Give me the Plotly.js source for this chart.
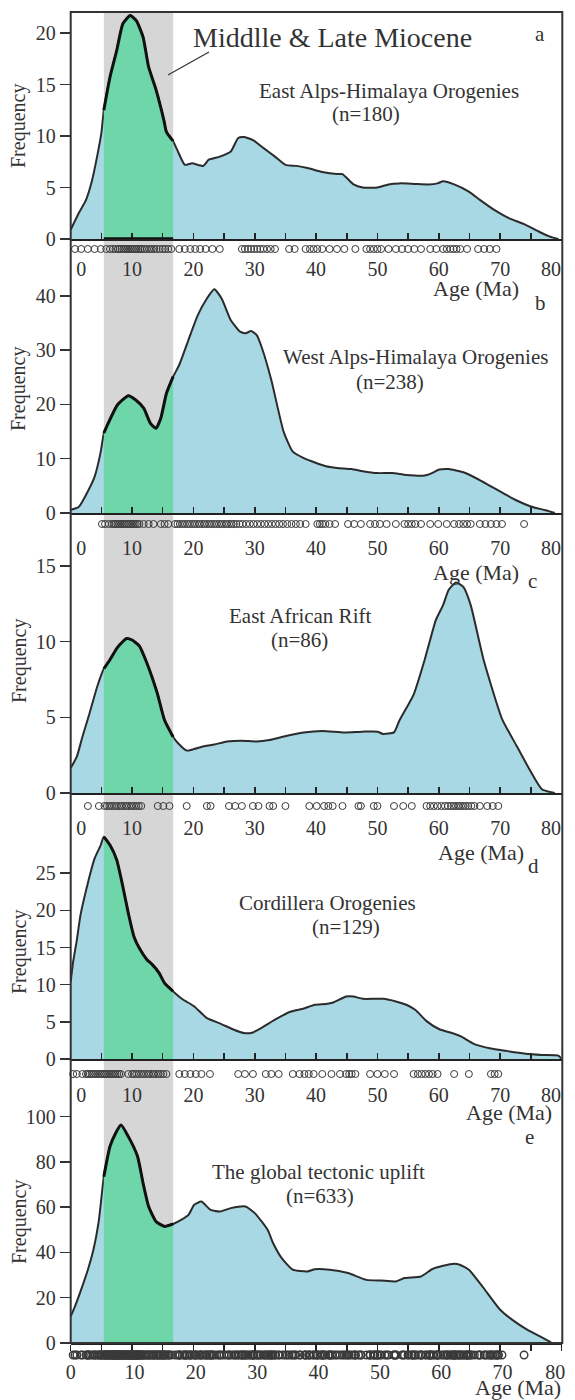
<!DOCTYPE html>
<html><head><meta charset="utf-8">
<script src="https://cdn.plot.ly/plotly-3.0.1.min.js"></script>
<style>html,body{margin:0;padding:0;background:#fff}</style>
</head><body><div id="chart" style="width:575px;height:1400px"></div>
<script>
// ---------- DATA ----------
const BAND = [5.4, 16.7]; // Middle & Late Miocene (Ma)

const titlesLine1 = ["East Alps-Himalaya Orogenies","West Alps-Himalaya Orogenies","East African Rift","Cordillera Orogenies","The global tectonic uplift"];
const titlesLine2 = ["(n=180)","(n=238)","(n=86)","(n=129)","(n=633)"];
const panelLetters = ["a","b","c","d","e"];
const xTickText = ["0","10","20","30","40","50","60","70","80"];
const yTicksA = [0,5,10,15,20];
const yTicksB = [0,10,20,30,40];
const yTicksC = [0,5,10,15];
const yTicksD = [0,5,10,15,20,25];
const yTicksE = [0,20,40,60,80,100];

// a: East Alps-Himalaya
const ageA = [0,1.3,2.5,3.4,4.3,5.0,5.4,6.4,7.5,8.5,9.7,10.7,11.8,12.7,13.9,15.2,15.6,16.7,17.4,18.6,19.8,21.6,22.5,24.3,26.1,27.3,28.2,29.7,31.5,33.3,35.0,36.8,38.6,41.0,43.4,44.3,46.1,47.6,50.0,51.8,53.6,56.0,58.3,59.8,60.7,62.5,64.9,66.7,69.1,71.5,73.9,76.2,78.0,79.5];
const freqA = [0.9,2.5,3.8,5.5,8.0,10.3,12.5,15.7,18.3,20.9,21.7,21.2,19.6,16.7,14.5,11.5,10.4,9.5,8.6,7.2,7.35,7.1,7.7,8.0,8.5,9.8,9.9,9.6,8.8,8.0,7.2,7.1,6.9,6.5,6.3,6.3,5.3,5.0,5.0,5.3,5.4,5.35,5.3,5.4,5.6,5.3,4.6,3.8,2.8,2.0,1.45,0.75,0.25,0];
const rugA = [0.7,1.7,2.8,3.9,4.9,5.8,6.4,6.9,7.3,7.7,8.0,8.3,8.6,8.9,9.2,9.5,9.8,10.1,10.4,10.7,11.0,11.3,11.6,12.0,12.4,12.8,13.2,13.6,14.0,14.5,15.0,15.4,15.9,16.4,17.7,18.6,19.5,20.3,21.1,22.0,23.1,24.3,27.9,28.4,28.9,29.4,29.9,30.4,30.9,31.4,32.0,32.6,33.3,35.6,36.5,38.3,39.0,39.6,40.2,41.0,42.2,43.4,44.6,46.4,48.2,48.8,49.4,50.0,50.6,51.8,53.0,54.0,55.0,56.0,57.1,58.6,59.6,60.7,61.3,61.9,62.4,62.9,63.5,64.6,66.4,67.4,68.3,69.4];

// b: West Alps-Himalaya
const ageB = [0,1.3,2.8,3.9,4.9,5.4,6.1,7.6,9.4,10.6,11.9,13.0,13.9,14.7,15.6,16.7,17.7,19.2,20.7,22.2,23.4,24.6,26.1,27.6,28.5,29.4,30.3,31.2,32.7,34.7,36.2,38.0,39.8,41.6,43.4,45.8,47.6,50.0,52.4,54.7,57.7,58.6,60.1,61.6,64.0,66.1,68.5,70.9,72.7,75.0,77.4,78.9];
const freqB = [0.6,1.1,4.0,6.7,11.3,14.7,16.5,19.9,21.6,20.8,19.3,16.5,15.6,17.5,22.0,25.1,27.3,31.9,36.4,39.5,41.2,39.5,35.5,33.4,33.1,33.5,32.8,30.3,24.5,15.0,11.3,10.1,9.3,8.6,8.3,8.1,7.7,7.35,7.35,7.0,6.9,7.2,8.0,8.1,7.5,6.4,4.9,3.4,2.3,1.2,0.5,0];
const rugB = [5.1,5.6,6.2,6.7,7.0,7.3,7.6,7.9,8.2,8.5,8.8,9.1,9.4,9.7,10.0,10.3,10.6,10.9,11.2,11.9,12.7,13.5,14.7,15.3,15.9,17.0,17.4,17.8,18.2,18.6,19.0,19.4,19.8,20.2,20.6,21.0,21.4,21.8,22.2,22.6,23.0,23.4,23.8,24.2,24.6,25.0,25.4,25.8,26.2,26.6,27.0,27.5,28.0,28.6,29.2,29.8,30.4,31.0,31.6,32.2,32.8,33.4,34.0,34.6,35.3,36.0,36.7,37.4,38.3,40.2,40.6,41.0,41.5,42.2,43.1,45.2,46.2,47.3,48.8,49.6,50.4,51.5,53.0,54.4,55.0,55.6,56.2,57.1,58.6,59.9,61.3,62.5,63.3,64.0,64.6,65.2,66.7,67.6,68.5,69.4,70.3,73.9];

// c: East African Rift
const ageC = [0,1.0,1.9,3.1,4.3,5.4,6.4,7.6,9.1,10.0,11.2,12.4,14.1,15.3,16.7,17.7,18.9,20.1,21.9,23.4,25.5,27.9,30.3,32.4,34.4,38.0,41.0,44.6,47.6,50.0,50.9,52.7,53.6,55.9,57.7,59.5,60.7,61.6,62.8,64.0,65.2,67.3,70.3,72.7,75.0,76.8,78.9];
const freqC = [1.65,2.4,3.7,5.3,7.0,8.2,8.8,9.6,10.2,10.1,9.7,8.6,6.6,4.8,3.7,3.2,2.8,2.9,3.1,3.2,3.4,3.45,3.4,3.5,3.7,4.0,4.1,4.0,4.05,4.05,3.9,4.0,4.8,6.5,8.8,11.4,12.4,13.4,13.9,13.6,12.4,8.8,4.9,3.1,1.4,0.25,0];
const rugC = [2.8,4.6,5.5,5.9,6.3,6.7,7.1,7.5,7.9,8.3,8.7,9.1,9.5,9.9,10.3,10.7,11.1,11.5,14.2,15.1,16.1,18.9,22.2,22.8,25.8,26.8,27.9,29.7,30.6,32.4,33.0,35.0,38.9,40.1,41.3,42.0,42.7,44.3,46.9,47.3,49.4,50.0,52.7,54.2,55.6,58.0,58.6,59.2,59.8,60.4,61.0,61.5,62.0,62.4,62.8,63.2,63.6,64.0,64.4,64.8,65.3,65.8,66.7,67.9,68.8,69.7];

// d: Cordillera
const ageD = [0,0.4,1.0,1.6,2.8,3.9,4.9,5.4,6.4,7.5,8.5,9.4,10.3,11.2,12.4,13.3,14.4,15.3,16.7,18.3,20.1,22.2,24.3,26.7,28.2,29.4,30.9,33.3,35.6,38.0,39.8,41.6,42.8,44.9,46.1,47.6,50.9,53.0,54.7,56.2,58.0,60.1,62.5,63.7,65.8,68.5,70.9,73.9,76.8,79.5,80];
const freqD = [10.4,13.1,16.0,19.4,23.7,27.0,28.8,29.9,28.8,26.8,23.2,19.6,16.5,14.9,13.4,12.7,11.6,10.2,9.1,8.0,7.1,5.5,4.8,3.9,3.5,3.5,4.1,5.3,6.3,6.8,7.3,7.4,7.6,8.4,8.4,8.1,8.1,7.75,7.3,6.6,5.1,4.0,3.4,3.0,2.0,1.4,1.1,0.75,0.55,0.45,0];
const rugD = [0.4,1.0,1.9,2.5,2.8,3.1,3.4,3.7,4.0,4.3,4.6,4.9,5.2,5.5,5.8,6.1,6.4,6.7,7.0,7.3,7.6,7.9,8.2,9.4,10.0,10.3,10.7,11.1,11.5,11.9,12.3,12.7,13.1,13.5,13.9,14.3,14.7,15.1,15.6,17.7,18.6,19.5,20.4,21.3,22.7,27.3,28.4,29.7,31.8,32.7,33.9,36.2,37.3,38.1,38.8,39.6,41.0,42.5,43.9,44.9,45.4,45.8,46.4,48.8,50.0,51.2,52.7,55.9,56.6,57.2,57.8,58.4,59.0,59.8,62.5,64.9,68.5,69.1,69.7];

// e: global (sum of the four regions, n = 180+238+86+129 = 633)
const ageE = [0,0.7,1.6,2.8,3.7,4.6,5.4,6.4,7.3,8.2,9.4,10.9,11.8,12.7,13.9,15.3,16.7,18.0,19.2,20.1,21.3,22.8,24.3,26.1,28.5,30.0,32.1,33.0,34.4,36.2,38.6,39.8,42.2,45.2,48.2,50.6,53.0,54.4,57.1,58.9,60.7,62.5,63.4,64.9,67.3,70.0,72.1,74.4,76.5,78.3];
const freqE = [11.8,16.2,22.8,32.4,41.2,54.4,73.5,86.8,92.6,96.3,91.2,82.4,70.6,60.3,53.7,51.5,52.6,54.4,56.6,61.0,62.5,58.8,58.1,59.6,60.3,57.4,50.0,44.1,37.5,32.4,31.6,32.6,32.4,30.9,27.9,27.6,27.2,28.7,29.4,32.6,34.1,35.0,34.6,32.4,24.3,14.7,10.0,5.9,2.9,0.3];
const rugE = rugA.concat(rugB, rugC, rugD);

// ---------- LAYOUT HELPERS ----------
const W = 575, H = 1400;
const px = v => v / W;
const py = v => 1 - v / H;
const FONT = "Liberation Serif, Times New Roman, serif";
const TXT = "#333";
const LINE = "#2b2b2b";
const BLUE = "#a8d8e3";
const GREEN = "#6ed6a8";
const GRAY = "#d6d6d6";
const XL = 70.7, XR = 561.5;

const series = [
  {age: ageA, freq: freqA, rug: rugA, yt: yTicksA},
  {age: ageB, freq: freqB, rug: rugB, yt: yTicksB},
  {age: ageC, freq: freqC, rug: rugC, yt: yTicksC},
  {age: ageD, freq: freqD, rug: rugD, yt: yTicksD},
  {age: ageE, freq: freqE, rug: rugE, yt: yTicksE}
];
// pixel geometry per panel (layout only)
const geo = [
  {y0: 239,  s: 10.3,  ymax: 22.0, rug: 249,  lab: 267,  ticks: "inside",  labpos: [1.7,10,20,30,40,50,60,70,78.3],
   t1: [389, 91], t2: [366, 114], freq: 126, age: [476, 288], let: [540, 303], mk: 7, mw: 1},
  {y0: 513,  s: 5.43,  ymax: 43.5, rug: 524,  lab: 546,  ticks: "inside",  labpos: [1.7,10,20,30,40,50,60,70,78.3],
   t1: [415, 357], t2: [390, 382], freq: 389, age: [476, 572], let: [532, 581], mk: 7, mw: 1},
  {y0: 793,  s: 15.15, ymax: 15.5, rug: 806,  lab: 826,  ticks: "inside",  labpos: [1.7,10,20,30,40,50,60,70,78.3],
   t1: [300, 616], t2: [299, 640], freq: 661, age: [481, 852], let: [533, 866], mk: 7, mw: 1},
  {y0: 1059, s: 7.43,  ymax: 30.5, rug: 1074, lab: 1093, ticks: "inside",  labpos: [1.7,10,20,30,40,50,60,70,78.3],
   t1: [327, 903], t2: [346, 927], freq: 952, age: [509, 1112], let: [529, 1137], mk: 7, mw: 1},
  {y0: 1343, s: 2.263, ymax: 101,  rug: 1355, lab: 1370, ticks: "outside", labpos: [0,10.4,20.4,30.4,40.4,50.4,60.4,70.4,79],
   t1: [318, 1172], t2: [320, 1196], freq: 1222, age: [518, 1387], let: null, mk: 7.5, mw: 1.4}
];

const traces = [];
const layout = {
  width: W, height: H, margin: {l: 0, r: 0, t: 0, b: 0},
  paper_bgcolor: "#fff", plot_bgcolor: "rgba(0,0,0,0)",
  showlegend: false, shapes: [], annotations: []
};

function ann(text, x, y, size, extra) {
  return Object.assign({text: text, xref: "paper", yref: "paper", x: px(x), y: py(y),
    xanchor: "center", yanchor: "middle", showarrow: false,
    font: {family: FONT, size: size, color: TXT}}, extra || {});
}

series.forEach((d, i) => {
  const g = geo[i];
  const k = i + 1, kr = i + 6;
  const xa = k === 1 ? "x" : "x" + k, ya = k === 1 ? "y" : "y" + k;
  const xr = "x" + kr, yr = "y" + kr;
  const top = g.y0 - g.ymax * g.s;

  // blue full curve
  traces.push({x: d.age, y: d.freq, xaxis: xa, yaxis: ya, type: "scatter", mode: "lines",
    fill: "tozeroy", fillcolor: BLUE, line: {color: LINE, width: 2, shape: "spline", smoothing: 0.5}, hoverinfo: "skip"});
  // green Miocene part
  const bx = [], by = [];
  d.age.forEach((a, j) => { if (a >= BAND[0] - 1e-9 && a <= BAND[1] + 1e-9) { bx.push(a); by.push(d.freq[j]); } });
  traces.push({x: bx, y: by, xaxis: xa, yaxis: ya, type: "scatter", mode: "lines",
    fill: "tozeroy", fillcolor: GREEN, line: {color: "#111", width: 3, shape: "spline", smoothing: 0.5}, hoverinfo: "skip"});
  // rug of sample ages
  traces.push({x: d.rug, y: d.rug.map(() => 0), xaxis: xr, yaxis: yr, type: "scatter", mode: "markers",
    cliponaxis: false,
    marker: {symbol: "circle-open", size: g.mk, color: "#3a3a3a", line: {width: g.mw}}, hoverinfo: "skip"});

  const xName = k === 1 ? "xaxis" : "xaxis" + k;
  const yName = k === 1 ? "yaxis" : "yaxis" + k;
  layout[xName] = {domain: [px(XL), px(XR)], range: [0, 80], anchor: ya,
    showline: true, linecolor: "#222", linewidth: 2, ticks: g.ticks, ticklen: 6, tickwidth: 1.5,
    tickcolor: "#222", dtick: 5, tick0: 0, showticklabels: false, showgrid: false, zeroline: false, fixedrange: true};
  layout[yName] = {domain: [py(g.y0), py(top)], range: [0, g.ymax], anchor: xa,
    showline: false, ticks: "outside", ticklen: 10, tickwidth: 1.5, tickcolor: "#333",
    tickmode: "array", tickvals: d.yt, ticktext: d.yt.map(String),
    tickfont: {family: FONT, size: 20, color: TXT}, showgrid: false, zeroline: false, fixedrange: true};

  const labBottom = g.lab - 12;
  const rugTop = g.rug - (labBottom - g.rug);
  layout["xaxis" + kr] = {domain: [px(XL), px(XR)], range: [0, 80], anchor: yr,
    showline: false, ticks: "", tickmode: "array", tickvals: g.labpos, ticktext: xTickText,
    tickfont: {family: FONT, size: 20, color: TXT}, showgrid: false, zeroline: false, fixedrange: true};
  layout["yaxis" + kr] = {domain: [py(labBottom), py(rugTop)], range: [-1, 1], anchor: xr,
    visible: false, fixedrange: true};

  layout.annotations.push(ann(titlesLine1[i], g.t1[0], g.t1[1], 21));
  layout.annotations.push(ann(titlesLine2[i], g.t2[0], g.t2[1], 21));
  layout.annotations.push(ann("Frequency", 19, g.freq, 20, {textangle: -90}));
  layout.annotations.push(ann("Age (Ma)", g.age[0], g.age[1], 22));
  if (g.let) layout.annotations.push(ann(panelLetters[i + 1], g.let[0], g.let[1], 21));
});

layout.annotations.push(ann(panelLetters[0], 540, 34, 21));
layout.annotations.push(ann("Middlle &amp; Late Miocene", 332, 38, 28));

// gray Miocene band across all panels
layout.shapes.push({type: "rect", xref: "x", yref: "paper", x0: BAND[0], x1: BAND[1],
  y0: py(1344), y1: py(12), fillcolor: GRAY, line: {width: 0}, layer: "below"});
// thicker baseline under the Miocene part of panel a
layout.shapes.push({type: "line", xref: "x", yref: "y", x0: BAND[0], x1: BAND[1], y0: 0, y1: 0,
  line: {color: "#111", width: 3.5}, layer: "above"});
// outer frame
layout.shapes.push({type: "rect", xref: "paper", yref: "paper", x0: px(XL), x1: px(XR + 0.8),
  y0: py(1343), y1: py(12), fillcolor: "rgba(0,0,0,0)", line: {color: "#333", width: 2}, layer: "above"});
// pointer from label to band
layout.shapes.push({type: "line", xref: "paper", yref: "paper", x0: px(209), y0: py(52), x1: px(168), y1: py(75),
  line: {color: "#333", width: 1.2}});

Plotly.newPlot("chart", traces, layout, {displayModeBar: false, staticPlot: true});
</script></body></html>
